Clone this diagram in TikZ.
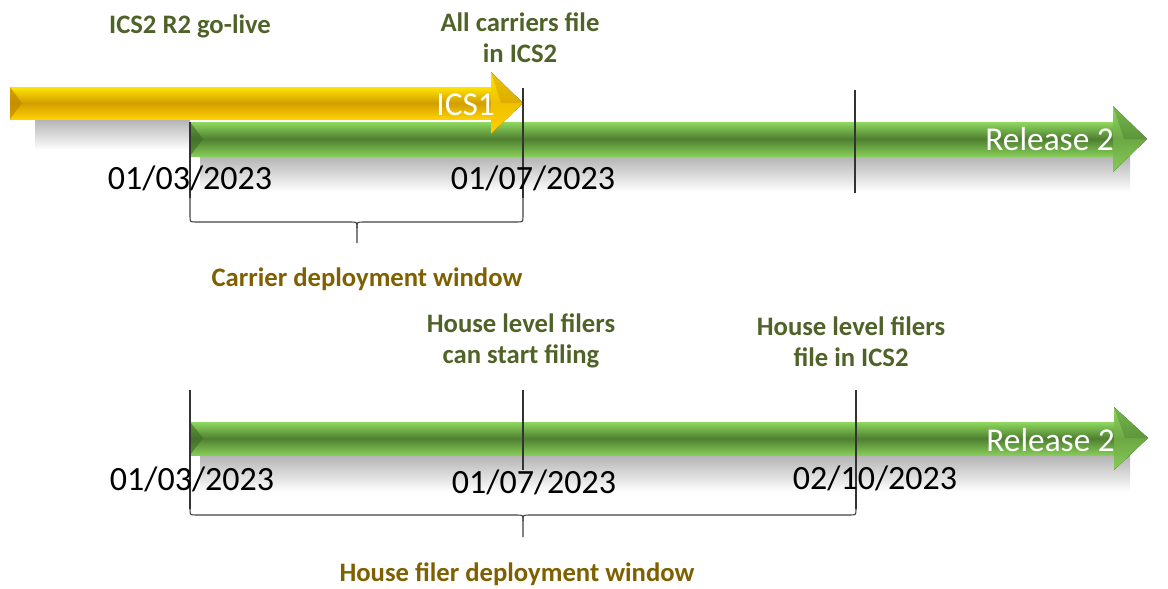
\documentclass[tikz,border=0pt]{standalone}
\usepackage{fontspec}
\setmainfont{Carlito}
\begin{document}
\begin{tikzpicture}[x=0.75pt,y=-0.75pt,
  lbl/.style={font=\fontsize{20}{23.5}\selectfont\bfseries, text=lblgreen, align=center, inner sep=0pt},
  win/.style={font=\fontsize{20}{23.5}\selectfont\bfseries, text=lblbrown, inner sep=0pt},
  datelbl/.style={font=\fontsize{25.5}{28}\selectfont, text=black, inner sep=0pt, anchor=base},
  arrlbl/.style={font=\fontsize{25}{28}\selectfont, text=white, inner sep=0pt, anchor=base east},
  tick/.style={draw=black!80, line width=0.8pt},
  bracebar/.style={draw=black!75, line width=0.8pt},
  yellowbody/.style={top color=yeltop, bottom color=yelbot, middle color=yelmid},
  yellowhead/.style={top color=yeltop, bottom color=yelbot, middle color=yelhmid},
  greenbody/.style={top color=grntop, bottom color=grnbot, middle color=grnmid},
  greenhead/.style={top color=grntop, bottom color=grnbot, middle color=grnhmid},
  shadowband/.style={top color=black!30, bottom color=white, draw=none}]
\definecolor{lblgreen}{HTML}{4F6228}
\definecolor{lblbrown}{HTML}{7F6000}
\definecolor{yeltop}{HTML}{FFE400}
\definecolor{yelmid}{HTML}{D29E00}
\definecolor{yelhmid}{HTML}{F0C000}
\definecolor{yelbot}{HTML}{FFD000}
\definecolor{yeldark}{HTML}{C08800}
\definecolor{grntop}{HTML}{8ED860}
\definecolor{grnmid}{HTML}{4F7F30}
\definecolor{grnhmid}{HTML}{6CA844}
\definecolor{grnbot}{HTML}{86CC58}
\definecolor{grndark}{HTML}{3E6A25}
\useasboundingbox (0,0) rectangle (1168,589);

% ---------- shadows ----------
\fill[shadowband] (35,119) rectangle (190,150);
\fill[shadowband] (200,156) rectangle (1130,192);
\fill[shadowband] (200,455) rectangle (1130,492);

% ---------- top timeline ----------
\fill[greenbody] (190,122) rectangle (1114,156);
\fill[greenhead] (1113,106) -- (1147,139) -- (1113,172) -- cycle;
\fill[grndark, opacity=0.6] (190,122) -- (203,139) -- (190,156) -- cycle;
\fill[grndark, opacity=0.3] (1113,106) -- (1147,139) -- (1124,139) -- cycle;

\fill[yellowbody] (10,87) rectangle (492,119);
\fill[yellowhead] (491,72) -- (523,103) -- (491,134) -- cycle;
\fill[yeldark, opacity=0.7] (10,87) -- (22,103) -- (10,119) -- cycle;
\fill[yeldark, opacity=0.35] (491,72) -- (523,103) -- (501,103) -- cycle;

\coordinate (t1a) at (190,122);
\coordinate (t1b) at (190,198);
\coordinate (t2a) at (523,88);
\coordinate (t2b) at (523,198);
\coordinate (t3a) at (855,90);
\coordinate (t3b) at (855,193);
\draw[tick] (t1a) -- (t1b);
\draw[tick] (t2a) -- (t2b);
\draw[tick] (t3a) -- (t3b);

\draw[bracebar] (t1b) -- (190,216) .. controls (190,222) .. (196,222) -- (351,222)
  .. controls (357,222) .. (357,228) -- (357,243);
\draw[bracebar] (357,228) .. controls (357,222) .. (363,222) -- (517,222)
  .. controls (523,222) .. (523,216) -- (t2b);

\node[lbl, anchor=base] (golive) at (190,33) {ICS2 R2 go-live};
\node[lbl] (allcar) at (520,38) {All carriers file\\in ICS2};
\node[arrlbl] (ics1) at (495,115) {ICS1};
\node[arrlbl] (rel1) at (1114,150) {Release 2};
\node[datelbl] (d1) at (190,189) {01/03/2023};
\node[datelbl] (d2) at (533,189) {01/07/2023};
\node[win, anchor=base] (cwin) at (367,286) {Carrier deployment window};

% ---------- bottom timeline ----------
\fill[greenbody] (190,422) rectangle (1115,455);
\fill[greenhead] (1114,407) -- (1148,438) -- (1114,470) -- cycle;
\fill[grndark, opacity=0.6] (190,422) -- (203,438) -- (190,455) -- cycle;
\fill[grndark, opacity=0.3] (1114,407) -- (1148,438) -- (1125,438) -- cycle;

\coordinate (b1a) at (190,390);
\coordinate (b1b) at (190,509);
\coordinate (b2a) at (523,390);
\coordinate (b2b) at (523,537);
\coordinate (b3a) at (856,390);
\coordinate (b3b) at (856,509);
\draw[tick] (b1a) -- (b1b);
\draw[tick] (b2a) -- (523,470);
\draw[tick] (b3a) -- (b3b);

\draw[bracebar] (b1b) .. controls (190,515) .. (196,515) -- (517,515)
  .. controls (523,515) .. (523,521) -- (b2b);
\draw[bracebar] (523,521) .. controls (523,515) .. (529,515) -- (850,515)
  .. controls (856,515) .. (b3b);

\node[lbl] (hstart) at (521,341) {House level filers\\can start filing};
\node[lbl] (hfile) at (851,342) {House level filers\\file in ICS2};
\node[arrlbl] (rel2) at (1115,451) {Release 2};
\node[datelbl] (e1) at (192,490) {01/03/2023};
\node[datelbl] (e2) at (534,493) {01/07/2023};
\node[datelbl] (e3) at (875,489) {02/10/2023};
\node[win, anchor=base] (hwin) at (517,581) {House filer deployment window};
\end{tikzpicture}
\end{document}
